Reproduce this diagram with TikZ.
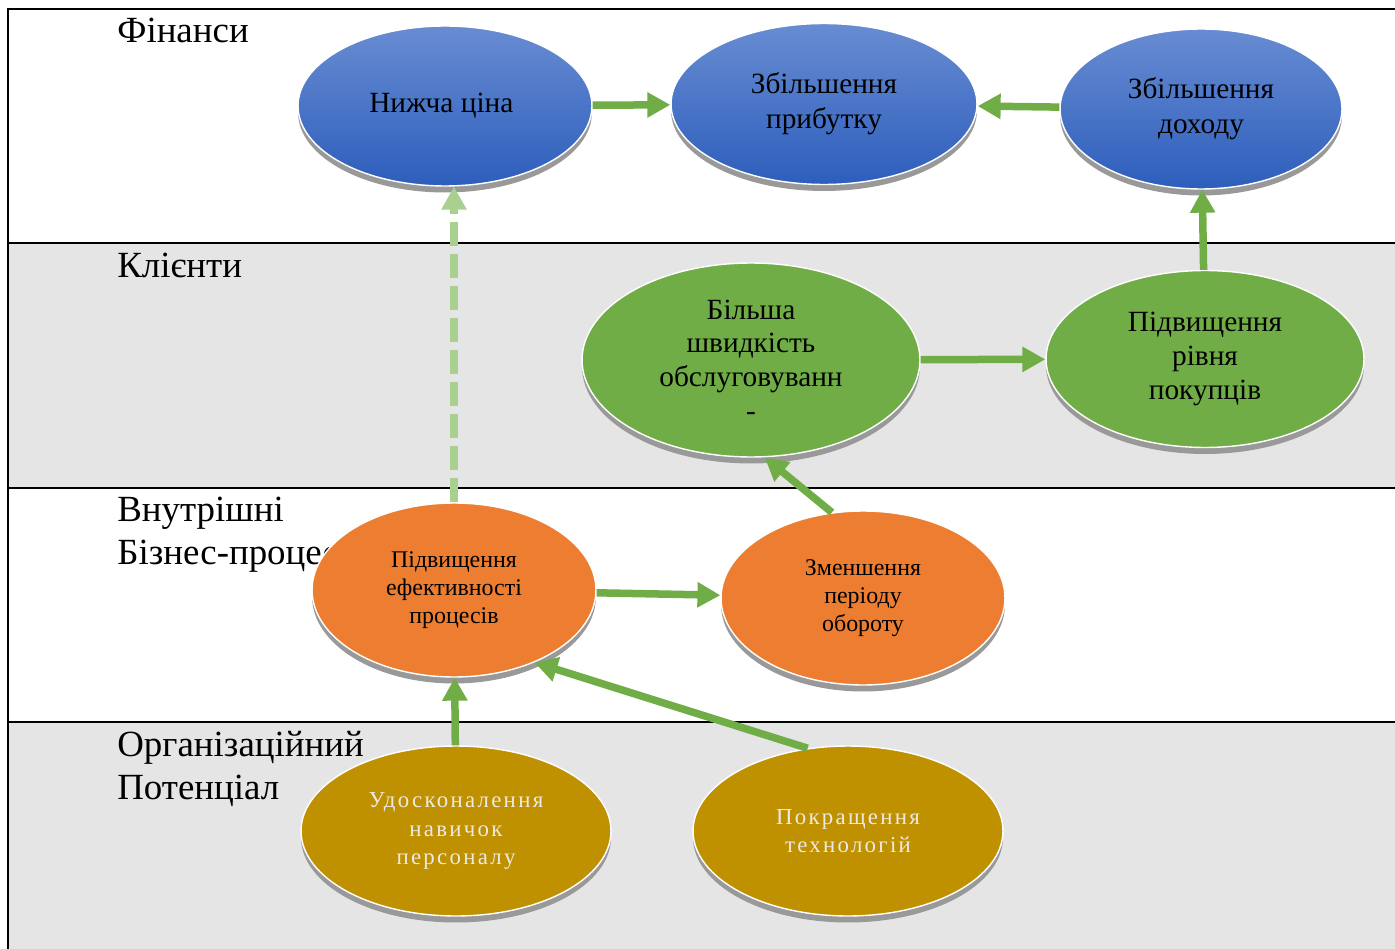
\documentclass[tikz,border=0pt]{standalone}
\usepackage{fontspec}
\setmainfont{Liberation Serif}
\newfontfamily\spacedfont[LetterSpace=10]{Liberation Serif}
\usetikzlibrary{shapes.geometric,arrows.meta,shadows}

\definecolor{bandgray}{RGB}{229,229,229}
\definecolor{bluetop}{RGB}{104,140,210}
\definecolor{bluebot}{RGB}{45,94,188}
\definecolor{leafgreen}{RGB}{112,173,71}
\definecolor{palegreen}{RGB}{169,208,142}
\definecolor{carrot}{RGB}{237,125,49}
\definecolor{mustard}{RGB}{191,144,0}
\definecolor{paletext}{RGB}{236,234,228}

\tikzset{
	goal/.style={ ellipse, inner sep=0pt, align=center, draw=white, line width=0.8pt,
		drop shadow={ shadow xshift=0cm, shadow yshift=-0.13cm, fill=black!40, opacity=1 } },
	fin/.style={ goal, top color=bluetop, bottom color=bluebot, font=\fontsize{16.7}{19.8}\selectfont },
	client/.style={ goal, fill=leafgreen, font=\fontsize{16.7}{19.2}\selectfont },
	proc/.style={ goal, fill=carrot, font=\fontsize{13.6}{16}\selectfont },
	potent/.style={ goal, fill=mustard, text=paletext, font=\spacedfont\fontsize{13}{16}\selectfont },
	band/.style={ anchor=north west, inner sep=0pt, align=left, font=\fontsize{21}{24.5}\selectfont },
	link/.style={ line width=0.15cm, draw=leafgreen, -{Triangle[length=0.46cm,width=0.48cm]} },
	faintlink/.style={ link, draw=palegreen, dash pattern=on 0.48cm off 0.16cm }
}

\begin{document}
\begin{tikzpicture}[ x=0.02cm, y=-0.02cm ]
	\useasboundingbox (0,0) rectangle (1395,949);

	\fill [ bandgray ] (8,243) rectangle (1395,488);
	\fill [ bandgray ] (8,722) rectangle (1395,949);

	\draw [ line width=1.6pt ] (8,949)--(8,9)--(1395,9);
	\draw [ line width=1.4pt ] (8,243)--(1395,243);
	\draw [ line width=1.4pt ] (8,488)--(1395,488);
	\draw [ line width=1.4pt ] (8,722)--(1395,722);

	\node [ band ] (finlabel) at (117,18) { Фінанси };
	\node [ band ] (clientlabel) at (117,253) { Клієнти };
	\node [ band ] (proclabel) at (117,497) { Внутрішні\\Бізнес-процеси };
	\node [ band ] (potentlabel) at (117,731) { Організаційний\\Потенціал };

	\node [ fin, minimum width=5.88cm, minimum height=3.2cm ] (nyzh) at (445,106) { Нижча ціна };
	\node [ fin, minimum width=6.12cm, minimum height=3.22cm ] (prybutok) at (824,104) { Збільшення\\прибутку };
	\node [ fin, minimum width=5.64cm, minimum height=3.2cm ] (dokhid) at (1201,109) { Збільшення\\доходу };

	\node [ client, minimum width=6.76cm, minimum height=3.88cm ] (shvydk) at (751,360) { Більша\\швидкість\\обслуговуванн\\- };
	\node [ client, minimum width=6.36cm, minimum height=3.54cm ] (pokuptsi) at (1205,359) { Підвищення\\рівня\\покупців };

	\node [ proc, minimum width=5.68cm, minimum height=3.48cm ] (efekt) at (454,590) { Підвищення\\ефективності\\процесів };
	\node [ proc, minimum width=5.68cm, minimum height=3.48cm ] (oborot) at (863,598) { Зменшення\\періоду\\обороту };

	\node [ potent, minimum width=6.2cm, minimum height=3.4cm ] (navychky) at (456,831) { Удосконалення\\навичок\\персоналу };
	\node [ potent, minimum width=6.2cm, minimum height=3.4cm ] (tekhn) at (848,831) { Покращення\\технологій };

	\draw [ link ] (nyzh)--(prybutok);
	\draw [ link ] (dokhid)--(prybutok);
	\draw [ link ] (pokuptsi)--(dokhid);
	\draw [ link ] (shvydk)--(pokuptsi);
	\draw [ link ] (oborot.110)--(shvydk.-82);
	\draw [ link ] (efekt)--(oborot);
	\draw [ link ] (navychky)--(efekt);
	\draw [ link ] (tekhn.116)--(efekt.-42);
	\draw [ faintlink ] (efekt.north)--(efekt.north |- nyzh.south);

\end{tikzpicture}
\end{document}
